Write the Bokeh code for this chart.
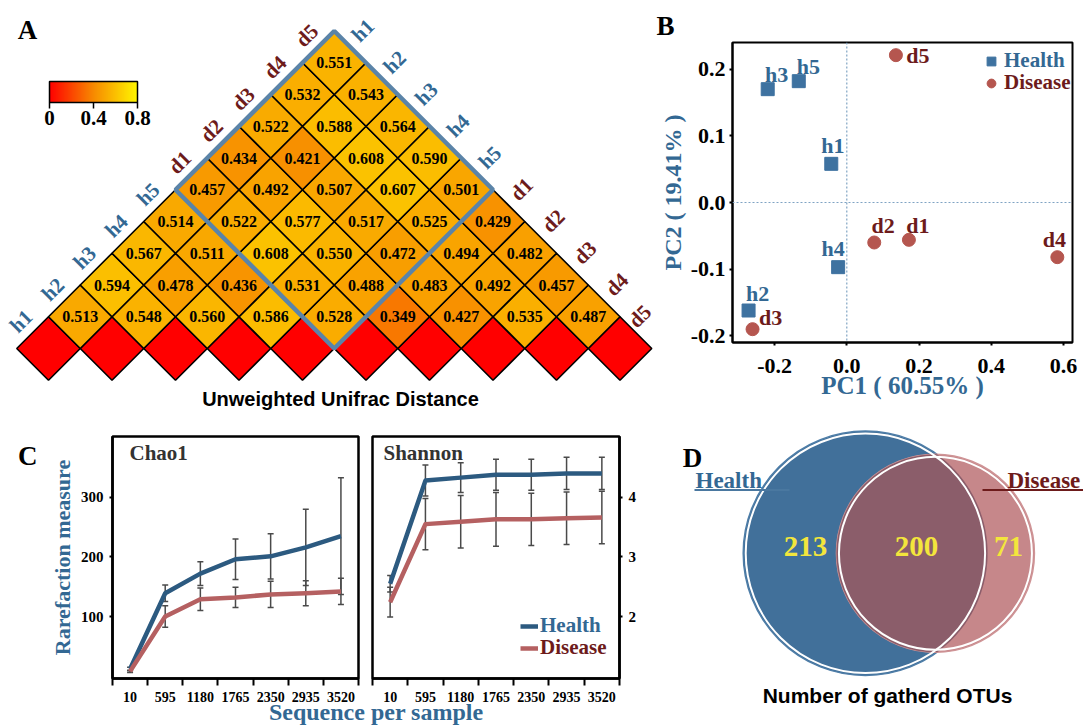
import math
from bokeh.plotting import figure
from bokeh.models import (ColumnDataSource, LinearColorMapper, ColorBar, FixedTicker,
                          NumeralTickFormatter, Label, Span, Whisker, TeeHead, Legend,
                          LegendItem, Div)
from bokeh.layouts import row, column
from bokeh.transform import transform
from bokeh.core.properties import value
from bokeh.embed import file_html
from bokeh.resources import INLINE

SERIF = "Liberation Serif"
SANS = "Liberation Sans"

# ------------------------------------------------------------------ data
samples = ["h1", "h2", "h3", "h4", "h5", "d1", "d2", "d3", "d4", "d5"]
sample_group = ["Health"] * 5 + ["Disease"] * 5

# unweighted unifrac distances, listed per diagonal offset (lag) from the left
dist_lag1 = [0.513, 0.548, 0.560, 0.586, 0.528, 0.349, 0.427, 0.535, 0.487]
dist_lag2 = [0.594, 0.478, 0.436, 0.531, 0.488, 0.483, 0.492, 0.457]
dist_lag3 = [0.567, 0.511, 0.608, 0.550, 0.472, 0.494, 0.482]
dist_lag4 = [0.514, 0.522, 0.577, 0.517, 0.525, 0.429]
dist_lag5 = [0.457, 0.492, 0.507, 0.607, 0.501]
dist_lag6 = [0.434, 0.421, 0.608, 0.590]
dist_lag7 = [0.522, 0.588, 0.564]
dist_lag8 = [0.532, 0.543]
dist_lag9 = [0.551]
colorbar_ticks = [0, 0.4, 0.8]

pc1_values = [-0.043, -0.272, -0.219, -0.024, -0.133, 0.172, 0.076, -0.261, 0.583, 0.136]
pc2_values = [0.058, -0.162, 0.170, -0.097, 0.182, -0.056, -0.060, -0.190, -0.082, 0.221]
pc1_ticks = [-0.2, 0.0, 0.2, 0.4, 0.6]
pc2_ticks = [-0.2, -0.1, 0.0, 0.1, 0.2]

depth = [10, 595, 1180, 1765, 2350, 2935, 3520]
chao_health = [12, 139, 172, 196, 201, 216, 235]
chao_health_sd = [3, 14, 20, 34, 38, 64, 98]
chao_disease = [8, 100, 129, 132, 137, 139, 142]
chao_disease_sd = [2, 18, 19, 17, 22, 21, 22]
chao_ticks = [100, 200, 300]

shannon_health = [2.55, 4.28, 4.33, 4.38, 4.38, 4.40, 4.40]
shannon_health_sd = [0.14, 0.26, 0.25, 0.26, 0.26, 0.27, 0.27]
shannon_disease = [2.24, 3.55, 3.59, 3.63, 3.63, 3.65, 3.66]
shannon_disease_sd = [0.25, 0.43, 0.44, 0.45, 0.44, 0.44, 0.44]
shannon_ticks = [2, 3, 4]

venn_health_only = 213
venn_shared = 200
venn_disease_only = 71

# ------------------------------------------------------------------ styles
C_H_TXT = "#336893"
C_D_TXT = "#6d1b1b"
C_H_MARK = "#3e72a0"
C_D_MARK = "#b5564f"
C_H_LINE = "#2c5a80"
C_D_LINE = "#b56061"
C_OUTLINE = "#5b84a8"
C_VENN_H = "#41709a"
C_VENN_D = "#c6878a"
C_VENN_HD = "#8b5d6a"
C_YELLOW = "#f3e63c"
C_ERR = "#4a4a4a"


def page_to_data(px, py, box, xr, yr):
    l, t, r, b = box
    x = xr[0] + (px - l) / (r - l) * (xr[1] - xr[0])
    y = yr[0] + (b - py) / (b - t) * (yr[1] - yr[0])
    return x, y


def add_label(p, box, xr, yr, px, py, text, size, color="black", font=SERIF,
              align="center", angle=0.0, style="bold"):
    x, y = page_to_data(px, py, box, xr, yr)
    p.add_layout(Label(x=x, y=y, text=text, text_font=font, text_font_style=style,
                       text_font_size=size, text_color=color, text_align=align,
                       text_baseline="middle", angle=angle))


def build_palette(stops, n=256):
    pal = []
    top = stops[-1][0]
    for k in range(n):
        t = k / (n - 1) * top
        for (t0, c0), (t1, c1) in zip(stops[:-1], stops[1:]):
            if t <= t1:
                break
        f = (t - t0) / (t1 - t0)
        rgb = [round(a + (b - a) * f) for a, b in zip(c0, c1)]
        pal.append("#%02x%02x%02x" % tuple(rgb))
    return pal


def style_axis_fonts(ax, size):
    ax.major_label_text_font = SERIF
    ax.major_label_text_font_style = "bold"
    ax.major_label_text_font_size = size
    ax.major_label_text_color = "black"


# ================================================================== Panel A
PITCH = 63.5
A_BOX = (0, 0, 656, 410)
A_ORIGIN = (48, 348)
a_xr = ((A_BOX[0] - A_ORIGIN[0]) / PITCH, (A_BOX[2] - A_ORIGIN[0]) / PITCH)
a_yr = ((A_ORIGIN[1] - A_BOX[3]) / PITCH, (A_ORIGIN[1] - A_BOX[1]) / PITCH)

figA = figure(width=A_BOX[2] - A_BOX[0], height=A_BOX[3] - A_BOX[1], x_range=a_xr, y_range=a_yr,
              x_axis_location=None, y_axis_location=None, min_border=0,
              outline_line_color=None, toolbar_location=None, output_backend="svg")
figA.grid.visible = False

n = len(samples)
dist_by_lag = [dist_lag1, dist_lag2, dist_lag3, dist_lag4, dist_lag5,
               dist_lag6, dist_lag7, dist_lag8, dist_lag9]
ci, cj, cv, ct = [], [], [], []
for k in range(n):
    ci.append(k); cj.append(k); cv.append(0.0); ct.append("")
for lag, vals in enumerate(dist_by_lag, start=1):
    for i, v in enumerate(vals):
        ci.append(i); cj.append(i + lag); cv.append(v); ct.append(f"{v:.3f}")
heat_src = ColumnDataSource(dict(
    x=[(a + b) / 2 for a, b in zip(ci, cj)],
    y=[(b - a) / 2 for a, b in zip(ci, cj)],
    v=cv, t=ct))

pal = build_palette([(0.0, (255, 0, 0)), (0.4, (247, 138, 0)), (0.8, (255, 246, 0))])
mapper = LinearColorMapper(palette=pal, low=colorbar_ticks[0], high=colorbar_ticks[-1])
side = math.sqrt(0.5)
figA.rect("x", "y", width=side, height=side, angle=math.pi / 4, source=heat_src,
          fill_color=transform("v", mapper), line_color="black", line_width=1.6)
figA.text("x", "y", text="t", source=heat_src, text_align="center", text_baseline="middle",
          text_font=value(SERIF), text_font_style="bold", text_font_size="16px",
          text_color="black")

h_idx = [i for i, g in enumerate(sample_group) if g == "Health"]
d_idx = [i for i, g in enumerate(sample_group) if g == "Disease"]
bi, bj = sum(h_idx) / len(h_idx), sum(d_idx) / len(d_idx)
figA.rect(x=[(bi + bj) / 2], y=[(bj - bi) / 2], width=len(h_idx) * side,
          height=len(d_idx) * side, angle=math.pi / 4, fill_color=None,
          line_color=C_OUTLINE, line_width=4.5)

OFF_L = 0.43
OFF_RX, OFF_RY = 0.45, 0.51
x_keep_in = a_xr[1] - 16.5 / PITCH      # keep rotated labels inside the canvas
lab_x, lab_y, lab_t, lab_c = [], [], [], []
for k in range(n):
    col = C_H_TXT if sample_group[k] == "Health" else C_D_TXT
    lab_x.append(k / 2 - OFF_L); lab_y.append(k / 2 + OFF_L)
    lab_t.append(samples[k]); lab_c.append(col)
    lab_x.append(min((k + n - 1) / 2 + OFF_RX, x_keep_in))
    lab_y.append((n - 1 - k) / 2 + OFF_RY)
    lab_t.append(samples[k]); lab_c.append(col)
figA.text(x=lab_x, y=lab_y, text=lab_t, text_color=lab_c, angle=math.pi / 4,
          text_align="center", text_baseline="middle", text_font=value(SERIF),
          text_font_style="bold", text_font_size="21px")

cb = ColorBar(color_mapper=mapper, orientation="horizontal", width=88, height=21,
              location=(49, 283), padding=0, margin=0,
              ticker=FixedTicker(ticks=colorbar_ticks),
              major_label_overrides={0: "0", 0.4: "0.4", 0.8: "0.8"},
              major_label_text_font=SERIF, major_label_text_font_style="bold",
              major_label_text_font_size="21px", major_label_text_color="black",
              major_tick_in=0, major_tick_out=6, major_tick_line_color="black",
              major_tick_line_width=1.5, minor_tick_line_color=None,
              bar_line_color="black", bar_line_width=1.5, label_standoff=2,
              background_fill_color=None, border_line_color=None)
figA.add_layout(cb)

add_label(figA, A_BOX, a_xr, a_yr, 27, 29, "A", "27px")
add_label(figA, A_BOX, a_xr, a_yr, 340, 398, "Unweighted Unifrac Distance", "20px",
          font=SANS)

# ================================================================== Panel B
B_FIG = (656, 0, 1083, 410)
B_BOX = (727, 42, 1072, 342)
b_xr = (-0.3165, 0.625)
b_yr = (-0.210, 0.240)
figB = figure(width=B_FIG[2] - B_FIG[0], height=B_FIG[3] - B_FIG[1], x_range=b_xr, y_range=b_yr,
              min_border_left=B_BOX[0] - B_FIG[0], min_border_right=B_FIG[2] - B_BOX[2],
              min_border_top=B_BOX[1] - B_FIG[1], min_border_bottom=B_FIG[3] - B_BOX[3],
              toolbar_location=None, output_backend="svg")
figB.grid.visible = False
figB.outline_line_color = "black"
figB.outline_line_width = 2
figB.xaxis.ticker = FixedTicker(ticks=pc1_ticks)
figB.yaxis.ticker = FixedTicker(ticks=pc2_ticks)
figB.xaxis.formatter = NumeralTickFormatter(format="0.0")
figB.yaxis.formatter = NumeralTickFormatter(format="0.0")
for ax in figB.axis:
    ax.axis_line_color = "black"
    ax.axis_line_width = 2
    ax.major_tick_in = 0
    ax.major_tick_out = 3
    ax.major_tick_line_color = "black"
    ax.major_tick_line_width = 2
    ax.minor_tick_line_color = None
    style_axis_fonts(ax, "22px")
    ax.axis_label_text_font = SERIF
    ax.axis_label_text_font_style = "bold"
    ax.axis_label_text_color = C_H_TXT
figB.xaxis.major_label_standoff = 13
figB.yaxis.major_label_standoff = 4
figB.xaxis.axis_label = "PC1 ( 60.55% )"
figB.xaxis.axis_label_text_font_size = "25px"
figB.xaxis.axis_label_standoff = -4
figB.yaxis.axis_label = "PC2 ( 19.41% )"
figB.yaxis.axis_label_text_font_size = "24px"
figB.yaxis.axis_label_standoff = 2
figB.title.text = "B"
figB.title.align = "left"
figB.title.offset = -76
figB.title.standoff = 4
figB.title.text_font = SERIF
figB.title.text_font_style = "bold"
figB.title.text_font_size = "27px"
figB.title.text_color = "black"

figB.add_layout(Span(location=0, dimension="height", line_color="#7fa3c3",
                     line_dash="2 2", line_width=1.2))
figB.add_layout(Span(location=0, dimension="width", line_color="#7fa3c3",
                     line_dash="2 2", line_width=1.2))

lab_dx = [1.5, 9, 9, -5, 9.5, 9, 9, 18, -3, 22]
lab_dy = [-18, -17, -15, -19, -15, -14, -17, -12, -18, 0]
src_h = ColumnDataSource(dict(x=[pc1_values[i] for i in h_idx], y=[pc2_values[i] for i in h_idx],
                              t=[samples[i] for i in h_idx], dx=[lab_dx[i] for i in h_idx],
                              dy=[lab_dy[i] for i in h_idx]))
src_d = ColumnDataSource(dict(x=[pc1_values[i] for i in d_idx], y=[pc2_values[i] for i in d_idx],
                              t=[samples[i] for i in d_idx], dx=[lab_dx[i] for i in d_idx],
                              dy=[lab_dy[i] for i in d_idx]))
rh = figB.scatter("x", "y", source=src_h, marker="square", size=13, fill_color=C_H_MARK,
                  line_color=C_H_MARK)
rd = figB.scatter("x", "y", source=src_d, marker="circle", size=13, fill_color=C_D_MARK,
                  line_color=C_D_MARK)
figB.text("x", "y", text="t", source=src_h, x_offset="dx", y_offset="dy", text_color=C_H_TXT,
          text_align="center", text_baseline="middle", text_font=value(SERIF),
          text_font_style="bold", text_font_size="22px")
figB.text("x", "y", text="t", source=src_d, x_offset="dx", y_offset="dy", text_color=C_D_TXT,
          text_align="center", text_baseline="middle", text_font=value(SERIF),
          text_font_style="bold", text_font_size="22px")


def small_legend(label, rend, color, loc, size, gw, gh):
    return Legend(items=[LegendItem(label=label, renderers=[rend])], location=loc,
                  label_text_font=SERIF, label_text_font_style="bold",
                  label_text_font_size=size, label_text_color=color, glyph_width=gw,
                  glyph_height=gh, label_standoff=2, padding=0, spacing=0, margin=0,
                  label_height=gh, border_line_color=None, background_fill_alpha=0)


figB.add_layout(small_legend("Health", rh, C_H_TXT, (248, 269), "21px", 22, 22))
figB.add_layout(small_legend("Disease", rd, C_D_TXT, (248, 247), "21px", 22, 22))

# ================================================================== Panel C
step = depth[1] - depth[0]
c_xr = (depth[0] - step / 2, depth[-1] + step / 2)
bounds = [d - step / 2 for d in depth] + [depth[-1] + step / 2]


def style_c_axes(p):
    p.grid.visible = False
    p.outline_line_color = "black"
    p.outline_line_width = 2.5
    for ax in p.axis:
        ax.axis_line_color = "black"
        ax.axis_line_width = 2.5
    style_axis_fonts(p.xaxis[0], "14px")
    style_axis_fonts(p.yaxis[0], "15px")
    p.xaxis.ticker = FixedTicker(ticks=depth, minor_ticks=bounds)
    p.xaxis.major_tick_in = 0
    p.xaxis.major_tick_out = 0
    p.xaxis.minor_tick_in = 0
    p.xaxis.minor_tick_out = 7
    p.xaxis.minor_tick_line_color = "black"
    p.xaxis.minor_tick_line_width = 2
    p.xaxis.major_label_standoff = 6
    p.yaxis.major_tick_in = 0
    p.yaxis.major_tick_out = 3
    p.yaxis.major_tick_line_width = 2
    p.yaxis.minor_tick_line_color = None
    p.yaxis.major_label_standoff = 6


def add_series(p, mean, sd, color):
    src = ColumnDataSource(dict(x=depth, lo=[m - s for m, s in zip(mean, sd)],
                                hi=[m + s for m, s in zip(mean, sd)]))
    p.add_layout(Whisker(base="x", lower="lo", upper="hi", source=src, line_color=C_ERR,
                         line_width=1.5,
                         upper_head=TeeHead(size=6, line_color=C_ERR, line_width=1.5),
                         lower_head=TeeHead(size=6, line_color=C_ERR, line_width=1.5)))
    return p.line(depth, mean, line_color=color, line_width=4.5, line_join="round")


C_ROW_TOP = 410
C_H = 298
C_LETTER_W = 40
C1_FIG = (C_LETTER_W, C_ROW_TOP, 362, C_ROW_TOP + C_H)
C1_BOX = (112, 436, 358, 678)
c1_yr = (-4, 402)
figC1 = figure(width=C1_FIG[2] - C1_FIG[0], height=C_H, x_range=c_xr, y_range=c1_yr,
               min_border_left=C1_BOX[0] - C1_FIG[0], min_border_right=C1_FIG[2] - C1_BOX[2],
               min_border_top=C1_BOX[1] - C1_FIG[1], min_border_bottom=C1_FIG[3] - C1_BOX[3],
               toolbar_location=None, output_backend="svg")
style_c_axes(figC1)
figC1.yaxis.ticker = FixedTicker(ticks=chao_ticks)
figC1.yaxis.axis_label = "Rarefaction measure"
figC1.yaxis.axis_label_text_font = SERIF
figC1.yaxis.axis_label_text_font_style = "bold"
figC1.yaxis.axis_label_text_font_size = "22px"
figC1.yaxis.axis_label_text_color = C_H_TXT
figC1.yaxis.axis_label_standoff = 3
add_series(figC1, chao_health, chao_health_sd, C_H_LINE)
add_series(figC1, chao_disease, chao_disease_sd, C_D_LINE)
add_label(figC1, C1_BOX, c_xr, c1_yr, 129, 452, "Chao1", "21px", color="#333333", align="left")

C2_FIG = (362, C_ROW_TOP, 660, C_ROW_TOP + C_H)
C2_BOX = (372, 436, 619, 678)
c2_yr = (0.96, 5.02)
figC2 = figure(width=C2_FIG[2] - C2_FIG[0], height=C_H, x_range=c_xr, y_range=c2_yr,
               y_axis_location="right",
               min_border_left=C2_BOX[0] - C2_FIG[0], min_border_right=C2_FIG[2] - C2_BOX[2],
               min_border_top=C2_BOX[1] - C2_FIG[1], min_border_bottom=C2_FIG[3] - C2_BOX[3],
               toolbar_location=None, output_backend="svg")
style_c_axes(figC2)
figC2.yaxis.ticker = FixedTicker(ticks=shannon_ticks)
lh = add_series(figC2, shannon_health, shannon_health_sd, C_H_LINE)
ld = add_series(figC2, shannon_disease, shannon_disease_sd, C_D_LINE)
add_label(figC2, C2_BOX, c_xr, c2_yr, 383, 452, "Shannon", "21px", color="#333333", align="left")
figC2.add_layout(small_legend("Health", lh, C_H_TXT, (148, 40), "21px", 18, 22))
figC2.add_layout(small_legend("Disease", ld, C_D_TXT, (148, 18), "21px", 18, 22))

c_letter = Div(text=('<div style="padding:33px 0 0 18px;font-family:\'Liberation Serif\';'
                     'font-weight:bold;font-size:27px;line-height:27px;color:black">C</div>'),
               width=C_LETTER_W, height=C_H, margin=0)
seq_div = Div(text=('<div style="width:752px;margin-top:-5px;text-align:center;'
                    'white-space:nowrap;font-family:\'Liberation Serif\';font-weight:bold;'
                    'font-size:24px;line-height:19px;color:%s">Sequence per sample</div>'
                    % C_H_TXT),
              width=660, height=727 - C_ROW_TOP - C_H, margin=0)

# ================================================================== Panel D
def lens_area(d, r1, r2):
    a1 = r1 * r1 * math.acos((d * d + r1 * r1 - r2 * r2) / (2 * d * r1))
    a2 = r2 * r2 * math.acos((d * d + r2 * r2 - r1 * r1) / (2 * d * r2))
    a3 = 0.5 * math.sqrt((-d + r1 + r2) * (d + r1 - r2) * (d - r1 + r2) * (d + r1 + r2))
    return a1 + a2 - a3


r_h = math.sqrt((venn_health_only + venn_shared) / math.pi)
r_d = math.sqrt((venn_disease_only + venn_shared) / math.pi)
lo, hi = abs(r_h - r_d) + 1e-9, r_h + r_d - 1e-9
for _ in range(80):
    mid = (lo + hi) / 2
    if lens_area(mid, r_h, r_d) > venn_shared:
        lo = mid
    else:
        hi = mid
dist = (lo + hi) / 2

D_BOX = (660, C_ROW_TOP, 1083, 727)
VENN_C = (864.9, 552.8)
VENN_R_PX = 122.2
ppu = VENN_R_PX / r_h
d_xr = ((D_BOX[0] - VENN_C[0]) / ppu, (D_BOX[2] - VENN_C[0]) / ppu)
d_yr = ((VENN_C[1] - D_BOX[3]) / ppu, (VENN_C[1] - D_BOX[1]) / ppu)
figD = figure(width=D_BOX[2] - D_BOX[0], height=D_BOX[3] - D_BOX[1], x_range=d_xr, y_range=d_yr,
              x_axis_location=None, y_axis_location=None, min_border=0,
              outline_line_color=None, toolbar_location=None, output_backend="svg")
figD.grid.visible = False

figD.circle(x=[0], y=[0], radius=r_h, fill_color=C_VENN_H, line_color="#4f7ea8", line_width=1.5)
figD.circle(x=[dist], y=[0], radius=r_d, fill_color=C_VENN_D, line_color="#cf9496", line_width=1.5)
xi = (dist * dist + r_h * r_h - r_d * r_d) / (2 * dist)
yi = math.sqrt(r_h * r_h - xi * xi)
th1 = math.atan2(yi, xi)
ph2 = math.atan2(yi, xi - dist)
N = 120
lens_x, lens_y = [], []
for k in range(N + 1):
    a = -th1 + 2 * th1 * k / N
    lens_x.append(r_h * math.cos(a)); lens_y.append(r_h * math.sin(a))
for k in range(N + 1):
    a = ph2 + (2 * math.pi - 2 * ph2) * k / N
    lens_x.append(dist + r_d * math.cos(a)); lens_y.append(r_d * math.sin(a))
figD.patch(lens_x, lens_y, fill_color=C_VENN_HD, line_color=None)
ring = 2.5 / ppu
figD.circle(x=[0], y=[0], radius=r_h - ring, fill_color=None, line_color="white", line_width=2)
figD.circle(x=[dist], y=[0], radius=r_d - ring, fill_color=None, line_color="white", line_width=2)

add_label(figD, D_BOX, d_xr, d_yr, 805, 546, str(venn_health_only), "29px", color=C_YELLOW)
add_label(figD, D_BOX, d_xr, d_yr, 916, 546, str(venn_shared), "29px", color=C_YELLOW)
add_label(figD, D_BOX, d_xr, d_yr, 1008, 546, str(venn_disease_only), "29px", color=C_YELLOW)
add_label(figD, D_BOX, d_xr, d_yr, 695, 480, "Health", "23px", color=C_H_TXT, align="left")
add_label(figD, D_BOX, d_xr, d_yr, 1007, 480, "Disease", "23px", color=C_D_TXT, align="left")
ux0, uy = page_to_data(694, 489.5, D_BOX, d_xr, d_yr)
ux1, _ = page_to_data(789, 489.5, D_BOX, d_xr, d_yr)
figD.line([ux0, ux1], [uy, uy], line_color="#4a78a0", line_width=2)
ux2, _ = page_to_data(982, 489.5, D_BOX, d_xr, d_yr)
ux3, _ = page_to_data(1083, 489.5, D_BOX, d_xr, d_yr)
figD.line([ux2, ux3], [uy, uy], line_color=C_D_TXT, line_width=2)
add_label(figD, D_BOX, d_xr, d_yr, 692, 457, "D", "27px")
add_label(figD, D_BOX, d_xr, d_yr, 887, 695, "Number of gatherd OTUs", "21px", font=SANS)

layout = column(row(column(figA), column(figB)),
                row(column(row(c_letter, figC1, figC2), seq_div), figD))
open("out.html", "w").write(file_html(layout, INLINE))
